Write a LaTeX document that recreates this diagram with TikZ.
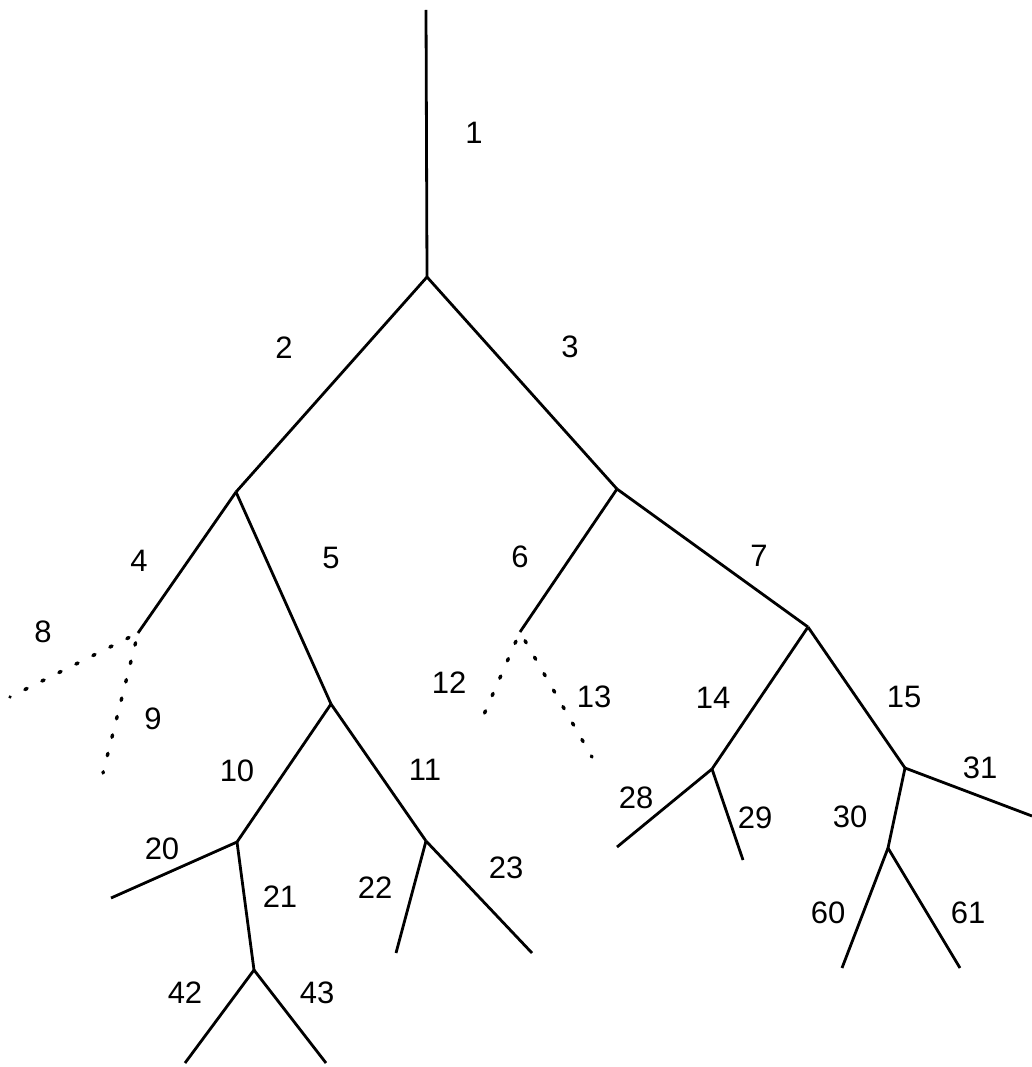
\documentclass[tikz,border=0pt]{standalone}
\usepackage{fontspec}
\setmainfont{Liberation Sans}
\begin{document}
\begin{tikzpicture}[x=1pt,y=-1pt,
  branch/.style={line width=2.8pt},
  ghost/.style={line width=3.4pt, line cap=round, dash pattern=on 2.5pt off 16.5pt, dash phase=-10pt},
  lbl/.style={font=\fontsize{31}{31}\selectfont, inner sep=0pt}]
\useasboundingbox (0,0) rectangle (1032,1067);
% junctions and tips of the tree
\coordinate (top) at (426,10);
\coordinate (n1)  at (427,277);
\coordinate (n2)  at (236,492);
\coordinate (n3)  at (617,489);
\coordinate (n4)  at (138,633);
\coordinate (n5)  at (331,704);
\coordinate (n6)  at (520,632);
\coordinate (n7)  at (808,627);
\coordinate (n8)  at (10,697);
\coordinate (n9)  at (103,773);
\coordinate (n12) at (478,728);
\coordinate (n13) at (592,757);
\coordinate (n10) at (237,842);
\coordinate (n11) at (426,841);
\coordinate (n14) at (712,769);
\coordinate (n15) at (905,768);
\coordinate (n20) at (111,898);
\coordinate (n21) at (254,970);
\coordinate (n42) at (185,1063);
\coordinate (n43) at (326,1063);
\coordinate (n22) at (396,953);
\coordinate (n23) at (532,953);
\coordinate (n28) at (617,847);
\coordinate (n29) at (743,860);
\coordinate (n30) at (888,848);
\coordinate (n31) at (1032,816);
\coordinate (n60) at (842,968);
\coordinate (n61) at (960,968);
% solid branches
\draw[branch] (top) -- (n1);
\draw[branch] (n1) -- (n2);
\draw[branch] (n1) -- (n3);
\draw[branch] (n2) -- (n4);
\draw[branch] (n2) -- (n5);
\draw[branch] (n3) -- (n6);
\draw[branch] (n3) -- (n7);
\draw[branch] (n5) -- (n10);
\draw[branch] (n5) -- (n11);
\draw[branch] (n7) -- (n14);
\draw[branch] (n7) -- (n15);
\draw[branch] (n10) -- (n20);
\draw[branch] (n10) -- (n21);
\draw[branch] (n21) -- (n42);
\draw[branch] (n21) -- (n43);
\draw[branch] (n11) -- (n22);
\draw[branch] (n11) -- (n23);
\draw[branch] (n14) -- (n28);
\draw[branch] (n14) -- (n29);
\draw[branch] (n15) -- (n30);
\draw[branch] (n15) -- (n31);
\draw[branch] (n30) -- (n60);
\draw[branch] (n30) -- (n61);
% dotted branches
\draw[ghost] (n4) -- (n8);
\draw[ghost] (n4) -- (n9);
\draw[ghost] (n6) -- (n12);
\draw[ghost] (n6) -- (n13);
% branch numbers
\node[lbl] (l1)  at (474,133) {1};
\node[lbl] (l2)  at (284,348) {2};
\node[lbl] (l3)  at (570,347) {3};
\node[lbl] (l4)  at (139,561) {4};
\node[lbl] (l5)  at (331,558) {5};
\node[lbl] (l6)  at (520,557) {6};
\node[lbl] (l7)  at (759,556) {7};
\node[lbl] (l8)  at (43,632) {8};
\node[lbl] (l9)  at (153,719) {9};
\node[lbl] (l12) at (449,683) {12};
\node[lbl] (l13) at (594,697) {13};
\node[lbl] (l10) at (237,771) {10};
\node[lbl] (l11) at (425,770) {11};
\node[lbl] (l14) at (713,698) {14};
\node[lbl] (l15) at (904,697) {15};
\node[lbl] (l20) at (162,849) {20};
\node[lbl] (l21) at (280,897) {21};
\node[lbl] (l22) at (375,888) {22};
\node[lbl] (l23) at (506,868) {23};
\node[lbl] (l28) at (636,798) {28};
\node[lbl] (l29) at (755,818) {29};
\node[lbl] (l30) at (850,817) {30};
\node[lbl] (l31) at (980,768) {31};
\node[lbl] (l60) at (828,913) {60};
\node[lbl] (l61) at (968,913) {61};
\node[lbl] (l42) at (185,993) {42};
\node[lbl] (l43) at (317,993) {43};
\end{tikzpicture}
\end{document}
